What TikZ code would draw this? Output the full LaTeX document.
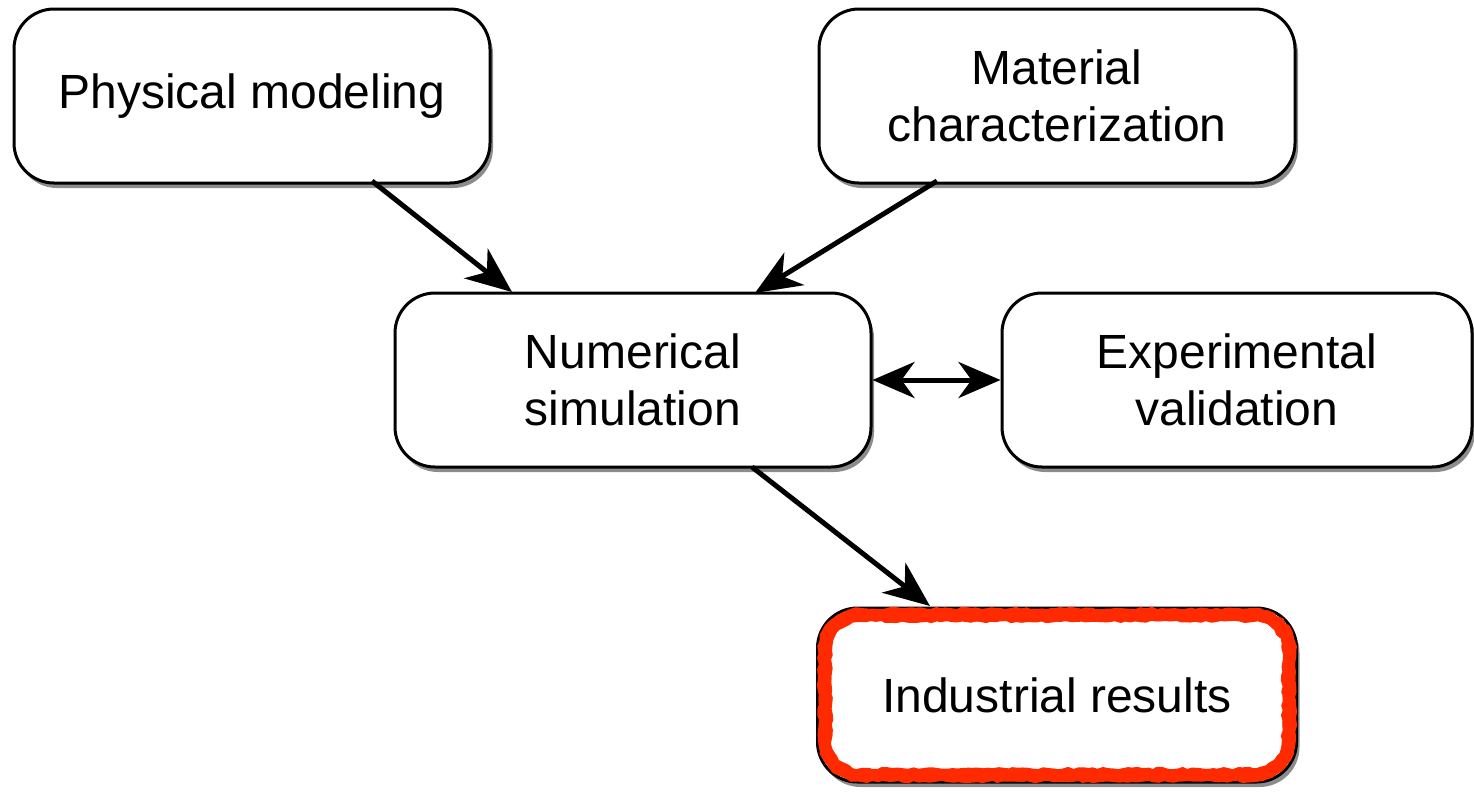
\documentclass[tikz,border=0pt]{standalone}
\usepackage{fontspec}
\setmainfont{Liberation Sans}
\usetikzlibrary{shadows,arrows.meta,decorations.pathmorphing}
\definecolor{hired}{RGB}{255,42,0}
\begin{document}
\begin{tikzpicture}[x=1pt,y=-1pt,
  box/.style={draw=black, line width=3pt, rounded corners=40pt, fill=white,
    minimum width=#1, minimum height=174pt, align=center, font=\fontsize{48}{57}\selectfont,
    drop shadow={shadow xshift=3pt, shadow yshift=-5pt, opacity=0.45, fill=black}},
  box/.default=476pt,
  conn/.style={line width=5pt, -{Stealth[length=46pt,width=38pt,inset=14pt]}},
  bconn/.style={line width=5pt, {Stealth[length=42pt,width=36pt,inset=13pt]}-{Stealth[length=42pt,width=36pt,inset=13pt]}},
  rough/.style={draw=hired, line width=#1, line join=round, line cap=round, sharp corners,
    decorate, decoration={random steps, segment length=5pt, amplitude=1.2pt}},
  rough/.default=11pt
]
\useasboundingbox (0,0) rectangle (1474,793);
\node[box] (phys) at (252,96) {Physical modeling};
\node[box] (mat) at (1057,96) {Material\\characterization};
\node[box] (num) at (633,380) {Numerical\\simulation};
\node[box=470pt] (exp) at (1237,380) {Experimental\\validation};
\node[box=479pt] (ind) at (1057,695) {Industrial results};
\coordinate (p1) at (372,181);
\coordinate (m1) at (937,181);
\coordinate (n1) at (752,467);
\coordinate (numA) at (512,292);
\coordinate (numB) at (755,293);
\coordinate (indA) at (930,606);
\draw[conn] (p1) -- (numA);
\draw[conn] (m1) -- (numB);
\draw[bconn] (num.east) -- (exp.west);
\draw[conn] (n1) -- (indA);
% rough red highlight round the result box
\draw[rough] (861,615) -- (1253,615) arc(90:0:36pt) -- (1289,739) arc(0:-90:36pt)
  -- (861,775) arc(-90:-180:36pt) -- (825,651) arc(180:90:36pt) -- cycle;
\draw[rough=4pt] (861,610) -- (1253,610) arc(90:0:41pt) -- (1294,739) arc(0:-90:41pt)
  -- (861,780) arc(-90:-180:41pt) -- (820,651) arc(180:90:41pt) -- cycle;
\draw[rough=4pt] (861,620) -- (1253,620) arc(90:0:31pt) -- (1284,739) arc(0:-90:31pt)
  -- (861,770) arc(-90:-180:31pt) -- (830,651) arc(180:90:31pt) -- cycle;
\end{tikzpicture}
\end{document}
